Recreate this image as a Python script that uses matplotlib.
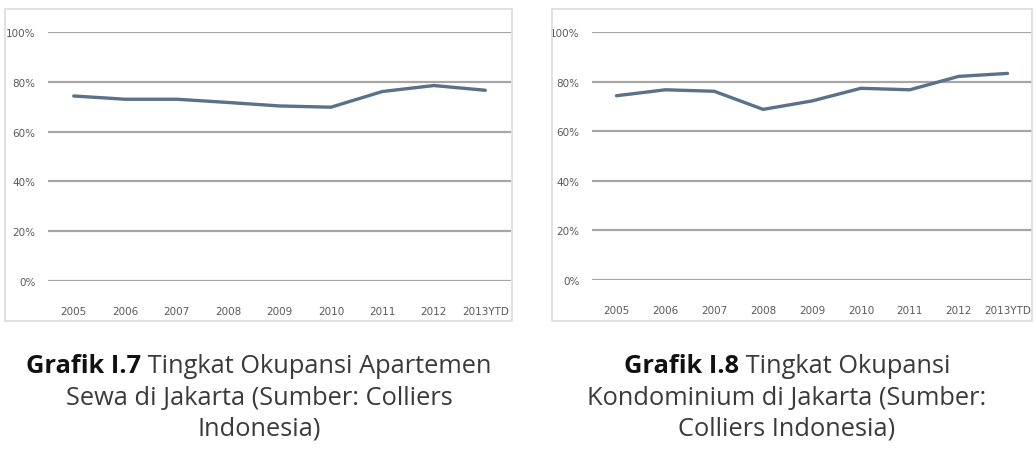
import matplotlib
matplotlib.use("Agg")
import matplotlib.pyplot as plt
from matplotlib.patches import Rectangle
from matplotlib.ticker import PercentFormatter

# data
years = ["2005", "2006", "2007", "2008", "2009", "2010", "2011", "2012", "2013YTD"]
apartemen = [74.3, 73.0, 73.0, 71.7, 70.3, 69.8, 76.1, 78.5, 76.6]
kondominium = [74.3, 76.7, 76.1, 68.8, 72.2, 77.3, 76.7, 82.1, 83.3]
yticks = [0, 20, 40, 60, 80, 100]

captions = [
    ("Grafik I.7", [" Tingkat Okupansi Apartemen", "Sewa di Jakarta (Sumber: Colliers", "Indonesia)"]),
    ("Grafik I.8", [" Tingkat Okupansi", "Kondominium di Jakarta (Sumber:", "Colliers Indonesia)"]),
]

W, H = 1036, 456
fig = plt.figure(figsize=(W / 100, H / 100), dpi=100)
fig.patch.set_facecolor("white")

line_color = "#5b7089"
grid_color = "#a6a6a6"
tick_color = "#595959"
cap_font = ["Open Sans", "DejaVu Sans"]


def px_axes(x0, x1, y_top, y_bot):
    return fig.add_axes([x0 / W, 1 - y_bot / H, (x1 - x0) / W, (y_bot - y_top) / H])


def draw_panel(ax, values):
    x = list(range(len(years)))
    ax.plot(x, values, color=line_color, lw=2.4, solid_capstyle="round")
    ax.set_xlim(-0.5, len(years) - 0.5)
    ax.set_ylim(0, 100)
    ax.set_yticks(yticks)
    ax.yaxis.set_major_formatter(PercentFormatter(decimals=0))
    ax.set_xticks(x)
    ax.set_xticklabels(years)
    ax.grid(axis="y", color=grid_color, lw=1.6)
    ax.set_axisbelow(True)
    for s in ax.spines.values():
        s.set_visible(False)
    ax.tick_params(length=0, labelsize=7.5, colors=tick_color)
    ax.tick_params(axis="x", pad=18)
    ax.tick_params(axis="y", pad=9)


# panel frames
fig.patches.append(Rectangle((5 / W, 1 - 322 / H), 507 / W, 312 / H, transform=fig.transFigure,
                             fill=False, ec="#dcdcdc", lw=1.2))
fig.patches.append(Rectangle((552 / W, 1 - 322 / H), 480 / W, 312 / H, transform=fig.transFigure,
                             fill=False, ec="#dcdcdc", lw=1.2))

ax1 = px_axes(48, 511, 33, 282)
draw_panel(ax1, apartemen)
ax2 = px_axes(592, 1032, 33, 281)
draw_panel(ax2, kondominium)

# captions: bold label followed by regular text on the first line
fig.canvas.draw()
renderer = fig.canvas.get_renderer()
centers = [259, 787]
baselines = [373, 405, 436]
fs = 18.3
for cx, (bold, lines) in zip(centers, captions):
    tb = fig.text(0, 0, bold, fontsize=fs, fontweight="bold", family=cap_font, color="#111111",
                  va="baseline")
    tr = fig.text(0, 0, lines[0], fontsize=fs, family=cap_font, color="#3a3a3a", va="baseline")
    wb = tb.get_window_extent(renderer).width
    wr = tr.get_window_extent(renderer).width
    x0 = cx - (wb + wr) / 2
    yy = 1 - baselines[0] / H
    tb.set_position((x0 / W, yy))
    tr.set_position(((x0 + wb) / W, yy))
    for ly, txt in zip(baselines[1:], lines[1:]):
        fig.text(cx / W, 1 - ly / H, txt, fontsize=fs, family=cap_font, color="#3a3a3a",
                 ha="center", va="baseline")

fig.savefig("out.png", dpi=100)
